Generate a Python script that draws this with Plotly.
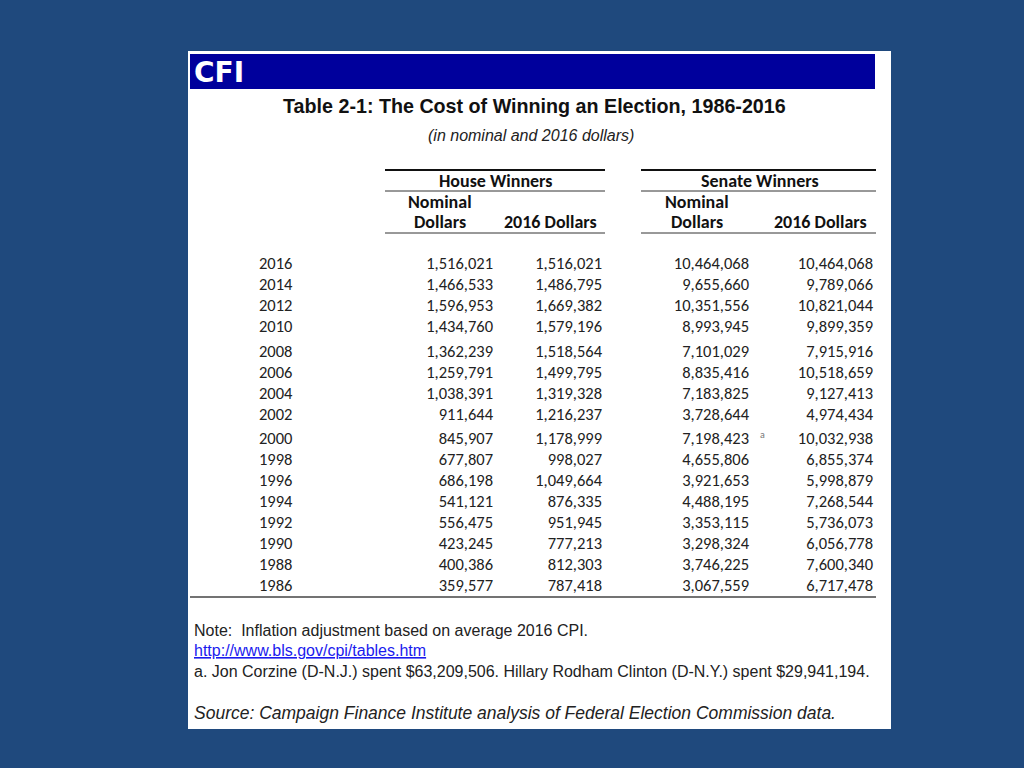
import plotly.graph_objects as go

# --- datos de la tabla ---
years = [2016, 2014, 2012, 2010, 2008, 2006, 2004, 2002,
         2000, 1998, 1996, 1994, 1992, 1990, 1988, 1986]
house_nominal = [1516021, 1466533, 1596953, 1434760, 1362239, 1259791, 1038391, 911644,
                 845907, 677807, 686198, 541121, 556475, 423245, 400386, 359577]
house_2016 = [1516021, 1486795, 1669382, 1579196, 1518564, 1499795, 1319328, 1216237,
              1178999, 998027, 1049664, 876335, 951945, 777213, 812303, 787418]
senate_nominal = [10464068, 9655660, 10351556, 8993945, 7101029, 8835416, 7183825, 3728644,
                  7198423, 4655806, 3921653, 4488195, 3353115, 3298324, 3746225, 3067559]
senate_2016 = [10464068, 9789066, 10821044, 9899359, 7915916, 10518659, 9127413, 4974434,
               10032938, 6855374, 5998879, 7268544, 5736073, 6056778, 7600340, 6717478]

title = "Table 2-1: The Cost of Winning an Election, 1986-2016"
subtitle = "(in nominal and 2016 dollars)"
note_lines = [
    "Note:  Inflation adjustment based on average 2016 CPI.",
    "http://www.bls.gov/cpi/tables.htm",
    "a. Jon Corzine (D-N.J.) spent $63,209,506. Hillary Rodham Clinton (D-N.Y.) spent $29,941,194.",
]
source = "Source: Campaign Finance Institute analysis of Federal Election Commission data."

BG = "#1f497d"
NAVY = "#00009c"
TXT = "#222222"
FONT_TAB = "Carlito, Lato, sans-serif"
FONT_ARIAL = "Liberation Sans, Arial, sans-serif"

# posiciones de filas (grupos separados con un pequeño hueco)
row_y = []
for i in range(len(years)):
    gap = (4 if i >= 4 else 0) + (3 if i >= 8 else 0)
    row_y.append(265 + i * 21 + gap)

fig = go.Figure()

cols = [
    (259, [str(y) for y in years], "middle right"),
    (493, [f"{v:,}" for v in house_nominal], "middle left"),
    (602, [f"{v:,}" for v in house_2016], "middle left"),
    (749, [f"{v:,}" for v in senate_nominal], "middle left"),
    (873, [f"{v:,}" for v in senate_2016], "middle left"),
]
for x0, texts, pos in cols:
    fig.add_trace(go.Scatter(
        x=[x0] * len(texts), y=row_y, text=texts, mode="text",
        textposition=pos,
        textfont=dict(family=FONT_TAB, size=16.5, color=TXT),
        showlegend=False, hoverinfo="skip"
    ))

shapes = [
    # panel blanco
    dict(type="rect", x0=188, x1=891, y0=51, y1=729, fillcolor="white", line=dict(width=0), layer="below"),
    # barra CFI
    dict(type="rect", x0=190, x1=875, y0=54, y1=89, fillcolor=NAVY, line=dict(width=0), layer="below"),
]
for xa, xb in [(385, 605), (641, 876)]:
    shapes.append(dict(type="line", x0=xa, x1=xb, y0=170, y1=170, line=dict(color="#111", width=2)))
    shapes.append(dict(type="line", x0=xa, x1=xb, y0=191, y1=191, line=dict(color="#333", width=1)))
    shapes.append(dict(type="line", x0=xa, x1=xb, y0=233, y1=233, line=dict(color="#333", width=1)))
shapes.append(dict(type="line", x0=190, x1=876, y0=597, y1=597, line=dict(color="#444", width=1.5)))
for s in shapes:
    s.update(xref="x", yref="y")

ann = []
def add_text(x, y, text, size, family=FONT_ARIAL, color=TXT, xanchor="center", bold=False, italic=False):
    if bold:
        text = f"<b>{text}</b>"
    if italic:
        text = f"<i>{text}</i>"
    ann.append(dict(x=x, y=y, xref="x", yref="y", text=text, showarrow=False,
                    xanchor=xanchor, yanchor="middle",
                    font=dict(family=family, size=size, color=color)))

add_text(192, 72, "CFI", 28, family="DejaVu Sans, sans-serif", color="white", xanchor="left", bold=True)
add_text(534, 106, title, 19.7, bold=True, color="#111")
add_text(531, 135, subtitle, 16, italic=True)

for cx, lbl in [(495, "House Winners"), (760, "Senate Winners")]:
    add_text(cx, 181, lbl, 18, family=FONT_TAB, bold=True, color="#111")
for cx in [440, 697]:
    add_text(cx, 202, "Nominal", 18, family=FONT_TAB, bold=True, color="#111")
    add_text(cx, 222, "Dollars", 18, family=FONT_TAB, bold=True, color="#111")
for cx in [550, 820]:
    add_text(cx, 222, "2016 Dollars", 18, family=FONT_TAB, bold=True, color="#111")

add_text(758, 434, "a", 10, family=FONT_TAB, color="#777", xanchor="left")

add_text(192, 630, note_lines[0], 16, xanchor="left")
add_text(192, 650, f"<u>{note_lines[1]}</u>", 16, xanchor="left", color="#1a1aee")
add_text(192, 671, note_lines[2], 16, xanchor="left")
add_text(192, 713, source, 17.5, xanchor="left", italic=True)

fig.update_layout(
    width=1024, height=768,
    margin=dict(l=0, r=0, t=0, b=0),
    paper_bgcolor=BG, plot_bgcolor=BG,
    xaxis=dict(range=[0, 1024], visible=False, fixedrange=True),
    yaxis=dict(range=[768, 0], visible=False, fixedrange=True),
    shapes=shapes, annotations=ann,
)

fig.write_html(
    "out.html",
    config={"displayModeBar": False},
    post_script="document.body.style.margin='0';document.body.style.background='%s';" % BG,
)
